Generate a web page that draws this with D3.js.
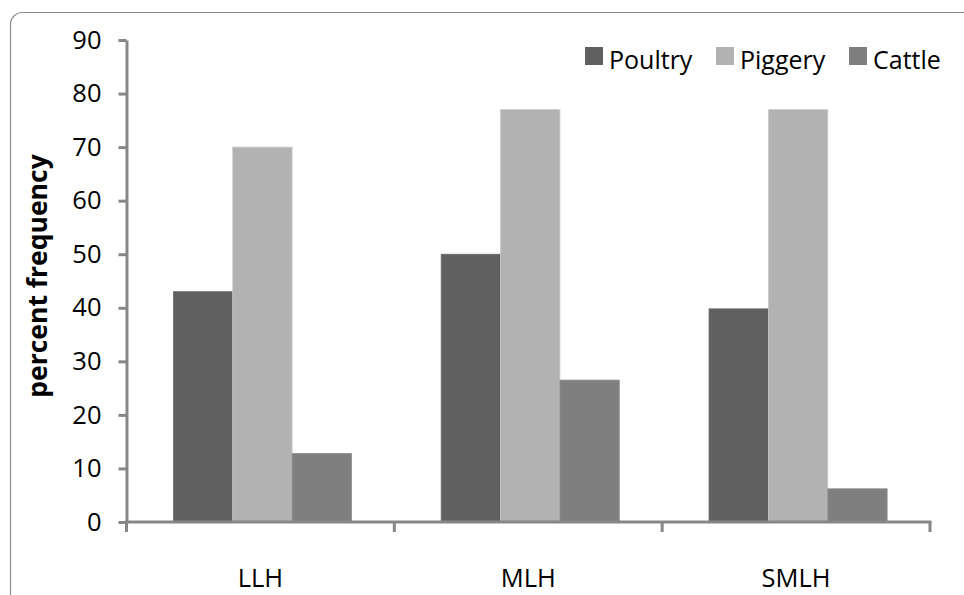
<!DOCTYPE html>
<html>
<head>
<meta charset="utf-8">
<script src="https://cdn.jsdelivr.net/npm/d3@7"></script>
<style>
  html, body { margin: 0; padding: 0; background: #fff; }
  svg { display: block; }
  text { font-family: "Open Sans", "Noto Sans", sans-serif; fill: #000; }
</style>
</head>
<body>
<svg id="chart" width="964" height="595"></svg>
<script>
// Housing categories and the three livestock series (percent frequency)
const categories = ["LLH", "MLH", "SMLH"];
const seriesNames = ["Poultry", "Piggery", "Cattle"];
const poultry = [43, 50, 39.8];
const piggery = [70, 77, 77];
const cattle = [12.8, 26.5, 6.2];
const yTicks = [0, 10, 20, 30, 40, 50, 60, 70, 80, 90];
const seriesColors = ["#606060", "#b2b2b2", "#7f7f7f"];

const seriesValues = [poultry, piggery, cattle];

const svg = d3.select("#chart");

// Outer frame with a rounded corner
svg.append("rect")
  .attr("x", 10.5).attr("y", 12.5)
  .attr("width", 1000).attr("height", 700)
  .attr("rx", 12).attr("ry", 12)
  .attr("fill", "none")
  .attr("stroke", "#8c8c8c")
  .attr("stroke-width", 1.2);

const plot = { left: 126.5, right: 930, top: 40, bottom: 522 };

const x = d3.scaleBand()
  .domain(categories)
  .range([plot.left, plot.right])
  .paddingInner(0.335)
  .paddingOuter(0.1675);

// Category band without padding, used for the axis tick positions
const xEdge = d3.scaleBand()
  .domain(categories)
  .range([plot.left, plot.right]);

const xSeries = d3.scaleBand()
  .domain(seriesNames)
  .range([0, x.bandwidth()]);

const y = d3.scaleLinear()
  .domain([0, 90])
  .range([plot.bottom, plot.top]);

const color = d3.scaleOrdinal().domain(seriesNames).range(seriesColors);

// Bars
const rows = categories.map((c, i) => ({
  category: c,
  values: seriesNames.map((s, k) => ({ series: s, value: seriesValues[k][i] }))
}));

const groups = svg.append("g")
  .selectAll("g")
  .data(rows)
  .join("g")
  .attr("transform", d => `translate(${x(d.category) + 2},0)`);

groups.selectAll("rect")
  .data(d => d.values)
  .join("rect")
  .attr("x", d => xSeries(d.series))
  .attr("y", d => y(d.value))
  .attr("width", xSeries.bandwidth())
  .attr("height", d => y(0) - y(d.value))
  .attr("fill", d => color(d.series))
  .attr("stroke", d => d3.color(color(d.series)).brighter(0.35))
  .attr("stroke-width", 0.8);

const axisColor = "#878787";

// Y axis
const yAxis = svg.append("g")
  .attr("transform", `translate(${plot.left},0)`)
  .call(d3.axisLeft(y).tickValues(yTicks).tickSize(8).tickPadding(17).tickSizeOuter(0));
yAxis.select(".domain").attr("stroke", axisColor).attr("stroke-width", 3);
yAxis.selectAll(".tick line").attr("stroke", axisColor).attr("stroke-width", 3);
yAxis.selectAll(".tick text")
  .attr("font-size", 25.5)
  .attr("font-family", "'Open Sans', 'Noto Sans', sans-serif")
  .attr("fill", "#000");

// X axis: line along zero with ticks at category boundaries
const xAxisG = svg.append("g");
xAxisG.append("line")
  .attr("x1", plot.left).attr("x2", plot.right)
  .attr("y1", y(0)).attr("y2", y(0))
  .attr("stroke", axisColor).attr("stroke-width", 3).attr("stroke-linecap", "square");

const boundaries = categories.map(c => xEdge(c)).concat([xEdge(categories[categories.length - 1]) + xEdge.bandwidth()]);
xAxisG.selectAll("line.tick")
  .data(boundaries)
  .join("line")
  .attr("class", "tick")
  .attr("x1", d => d).attr("x2", d => d)
  .attr("y1", y(0)).attr("y2", y(0) + 10)
  .attr("stroke", axisColor).attr("stroke-width", 3);

xAxisG.selectAll("text")
  .data(categories)
  .join("text")
  .attr("x", d => xEdge(d) + xEdge.bandwidth() / 2)
  .attr("y", 587)
  .attr("text-anchor", "middle")
  .attr("font-size", 25.5)
  .text(d => d);

// Y axis title
svg.append("text")
  .attr("transform", "translate(47,276) rotate(-90)")
  .attr("text-anchor", "middle")
  .attr("font-size", 26.5)
  .attr("font-weight", "bold")
  .text("percent frequency");

// Legend
const legendX = [585, 716, 849];
const legend = svg.append("g")
  .selectAll("g")
  .data(seriesNames)
  .join("g")
  .attr("transform", (d, i) => `translate(${legendX[i]},47)`);
legend.append("rect")
  .attr("width", 18).attr("height", 18)
  .attr("fill", d => color(d));
legend.append("text")
  .attr("x", 24).attr("y", 22)
  .attr("font-size", 25)
  .text(d => d);
</script>
</body>
</html>
